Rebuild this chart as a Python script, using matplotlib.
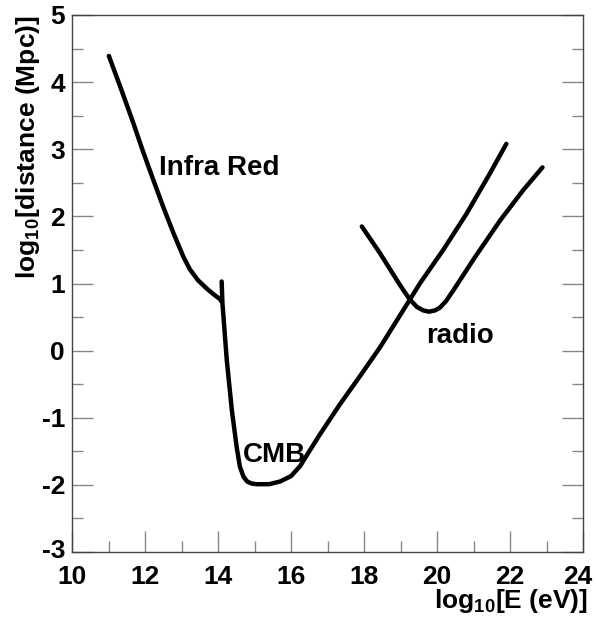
import matplotlib
matplotlib.use("Agg")
import matplotlib.pyplot as plt
import matplotlib.transforms as mtransforms
from matplotlib.ticker import MultipleLocator

plt.rcParams['font.family'] = ['Liberation Sans', 'DejaVu Sans']
plt.rcParams['font.weight'] = 'bold'
plt.rcParams['mathtext.fontset'] = 'custom'
plt.rcParams['mathtext.rm'] = 'Liberation Sans:bold'
plt.rcParams['mathtext.bf'] = 'Liberation Sans:bold'
plt.rcParams['mathtext.default'] = 'bf'
plt.rcParams['axes.unicode_minus'] = False

# Energy-loss horizons: log10(E/eV) vs log10(distance/Mpc)
ir_logE = [11.01, 11.35, 11.68, 11.95, 12.23, 12.5, 12.78, 13.05, 13.23, 13.45, 13.7, 13.9, 14.05, 14.1]
ir_logD = [4.39, 3.89, 3.39, 2.96, 2.54, 2.14, 1.75, 1.40, 1.21, 1.05, 0.92, 0.83, 0.77, 0.73]

cmb_logE = [14.1, 14.12, 14.24, 14.38, 14.51, 14.6, 14.7, 14.8, 14.92, 15.06, 15.4,
            15.7, 16.0, 16.25, 16.5, 16.79, 17.34, 17.89, 18.44, 18.9, 19.21, 19.53,
            20.17, 20.81, 21.45, 21.9]
cmb_logD = [1.03, 0.72, -0.14, -0.89, -1.43, -1.73, -1.88, -1.95, -1.98, -1.99, -1.99,
            -1.95, -1.87, -1.72, -1.50, -1.25, -0.80, -0.38, 0.05, 0.45, 0.72, 1.0,
            1.50, 2.04, 2.64, 3.08]

radio_logE = [17.94, 18.44, 18.9, 19.08, 19.26, 19.45, 19.62, 19.78, 19.95, 20.08,
              20.25, 20.45, 21.05, 21.73, 22.36, 22.89]
radio_logD = [1.85, 1.45, 1.05, 0.90, 0.76, 0.65, 0.60, 0.58, 0.60, 0.64,
              0.74, 0.90, 1.40, 1.94, 2.39, 2.73]

x_ticks = [10, 12, 14, 16, 18, 20, 22, 24]
y_ticks = [-3, -2, -1, 0, 1, 2, 3, 4, 5]

FS = 19
FS_NOTE = 20

fig = plt.figure(figsize=(5.96, 6.19), dpi=100)
ax = fig.add_axes([72 / 596, 1 - 552 / 619, (583 - 72) / 596, (552 - 15) / 619])

for xs, ys in [(ir_logE, ir_logD), (cmb_logE, cmb_logD), (radio_logE, radio_logD)]:
    ax.plot(xs, ys, color='black', lw=3.2, solid_capstyle='round', solid_joinstyle='round')

ax.set_xlim(10, 24)
ax.set_ylim(-3, 5)
ax.set_xticks(x_ticks)
ax.set_yticks(y_ticks)
ax.xaxis.set_minor_locator(MultipleLocator(1))
ax.yaxis.set_minor_locator(MultipleLocator(0.5))

for s in ax.spines.values():
    s.set_color('#444444')
    s.set_linewidth(1.0)

ax.tick_params(which='both', direction='in', top=False, right=True, color='#888888', width=1.0)
ax.tick_params(which='major', length=15, labelsize=FS)
ax.tick_params(axis='x', which='major', pad=9)
ax.tick_params(axis='y', which='major', pad=5)
ax.tick_params(which='minor', length=8)
for lab in ax.get_xticklabels() + ax.get_yticklabels():
    lab.set_fontweight('bold')

# nudge the corner labels so they stay clear of each other and the figure edge
xlabels = ax.get_xticklabels()
xlabels[-1].set_transform(xlabels[-1].get_transform()
                          + mtransforms.ScaledTranslation(-5 / 100, 0, fig.dpi_scale_trans))
ylabels = ax.get_yticklabels()
ylabels[0].set_transform(ylabels[0].get_transform()
                         + mtransforms.ScaledTranslation(0, 4 / 100, fig.dpi_scale_trans))

ax.text(12.38, 2.62, 'Infra Red', fontsize=FS_NOTE, fontweight='bold', ha='left', va='baseline')
ax.text(14.69, -1.66, 'CMB', fontsize=FS_NOTE, fontweight='bold', ha='left', va='baseline')
ax.text(19.70, 0.11, 'radio', fontsize=FS_NOTE, fontweight='bold', ha='left', va='baseline')

fig.text(588 / 596, 1 - 608 / 619, r'log$_{10}$[E (eV)]', fontsize=FS, fontweight='bold',
         ha='right', va='baseline')
fig.text(28 / 596, 1 - 15 / 619, r'log$_{10}$[distance (Mpc)]', fontsize=FS, fontweight='bold',
         ha='center', va='top', rotation=90)

fig.savefig('out.png', dpi=100, facecolor='white')
